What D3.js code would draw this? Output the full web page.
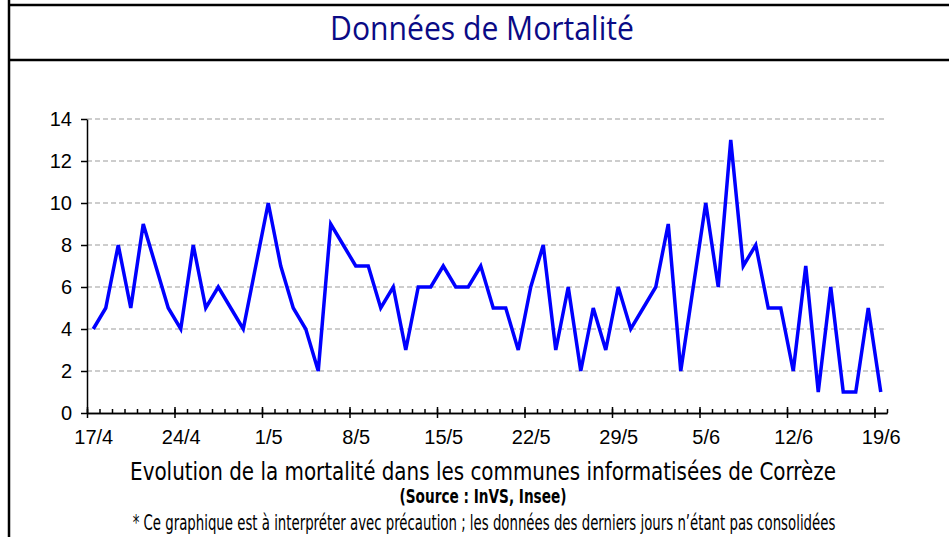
<!DOCTYPE html>
<html>
<head>
<meta charset="utf-8">
<script src="https://cdn.jsdelivr.net/npm/d3@7"></script>
<style type="text/css">
body { margin: 0; background: #fff; }
.frame { stroke: #000; stroke-width: 2.5; }
.grid line { stroke: #bdbdbd; stroke-width: 1.5; stroke-dasharray: 5,3; }
.axis path, .axis line { stroke: #000; stroke-width: 1.5; }
.line { fill: none; stroke: #0000ff; stroke-width: 3.5; stroke-linejoin: miter; }
.narrow { font-family: "Liberation Sans Narrow", "DejaVu Sans Condensed", sans-serif; fill: #000; }
</style>
</head>
<body>
<div id="chart"></div>
<script>

// daily deaths, from 17/4 to 19/6
var startDay = new Date(2020, 3, 17);
var deaths = [4,5,8,5,9,7,5,4,8,5,6,5,4,7,10,7,5,4,2,9,
              8,7,7,5,6,3,6,6,7,6,6,7,5,5,3,6,8,3,6,2,
              5,3,6,4,5,6,9,2,6,10,6,13,7,8,5,5,2,7,1,6,1,1,5,1];
var days = deaths.map(function(d, i) { return d3.timeDay.offset(startDay, i); });

// labelled ticks on the x axis
var tickLabels = ["17/4","24/4","1/5","8/5","15/5","22/5","29/5","5/6","12/6","19/6"];
var tickDays = tickLabels.map(function(t) {
	var p = t.split("/");
	return new Date(2020, +p[1] - 1, +p[0]);
});
var yTicks = [0, 2, 4, 6, 8, 10, 12, 14];

var width = 949, height = 537;
var margin = {top: 119, left: 87, bottom: 413, right: 887};

var svg = d3.select("#chart").append("svg")
	.attr("width", width)
	.attr("height", height);

// squeeze a text horizontally to the wanted width, centred on cx
function fitText(t, cx, cy, w) {
	var natural = t.node().getComputedTextLength();
	t.attr("x", 0).attr("y", 0)
	 .attr("transform", "translate(" + cx + "," + cy + ") scale(" + (w / natural) + ",1)");
}

// frame
svg.append("line").attr("class", "frame").attr("x1", 9).attr("x2", 9).attr("y1", 0).attr("y2", height);
svg.append("line").attr("class", "frame").attr("x1", 8).attr("x2", width).attr("y1", 5).attr("y2", 5);
svg.append("line").attr("class", "frame").attr("x1", 8).attr("x2", width).attr("y1", 60).attr("y2", 60);

var title = svg.append("text")
	.attr("text-anchor", "middle")
	.style("font-family", "'Open Sans', 'Noto Sans', sans-serif")
	.style("font-size", "32px")
	.style("fill", "#0a0a85")
	.text("Données de Mortalité");
fitText(title, 482, 40, 304);

var x = d3.scaleTime()
	.domain([startDay, d3.timeDay.offset(startDay, 64)])
	.range([margin.left, margin.right]);
var y = d3.scaleLinear()
	.domain([0, 14])
	.range([margin.bottom, margin.top]);
var half = (x(d3.timeDay.offset(startDay, 1)) - x(startDay)) / 2;

// grid lines
svg.append("g").attr("class", "grid")
	.selectAll("line").data(yTicks.slice(1)).enter().append("line")
	.attr("x1", margin.left).attr("x2", margin.right)
	.attr("y1", function(d) { return y(d); })
	.attr("y2", function(d) { return y(d); });

// y axis
svg.append("g").attr("class", "axis")
	.attr("transform", "translate(" + margin.left + ",0)")
	.call(d3.axisLeft(y).tickValues(yTicks).tickSize(6).tickSizeOuter(0).tickPadding(9))
	.selectAll("text").attr("font-family", "'Liberation Sans', Arial, sans-serif").attr("font-size", 20);

// minor x ticks, one per day
svg.append("g").attr("class", "axis")
	.attr("transform", "translate(0," + margin.bottom + ")")
	.call(d3.axisBottom(x).ticks(d3.timeDay.every(1)).tickSize(-4).tickSizeOuter(0).tickFormat(""));

// major x ticks and labels
var xAxis = svg.append("g").attr("class", "axis")
	.attr("transform", "translate(0," + margin.bottom + ")")
	.call(d3.axisBottom(x).tickValues(tickDays).tickSize(5).tickSizeOuter(0).tickPadding(12)
		.tickFormat(function(d, i) { return tickLabels[i]; }));
xAxis.selectAll(".tick line").attr("y1", -6);
xAxis.selectAll(".tick text")
	.attr("dx", half)
	.attr("font-family", "'Liberation Sans', Arial, sans-serif")
	.attr("font-size", 20);

// line
svg.append("path")
	.datum(deaths)
	.attr("class", "line")
	.attr("d", d3.line()
		.x(function(d, i) { return x(days[i]) + half; })
		.y(function(d) { return y(d); }));

// captions
var sub = svg.append("text").attr("class", "narrow")
	.attr("text-anchor", "middle")
	.style("font-size", "25px")
	.text("Evolution de la mortalité dans les communes informatisées de Corrèze");
fitText(sub, 483, 480, 706);

var src = svg.append("text").attr("class", "narrow")
	.attr("text-anchor", "middle")
	.style("font-size", "20px").style("font-weight", "bold")
	.text("(Source : InVS, Insee)");
fitText(src, 483, 503, 167);

var note = svg.append("text").attr("class", "narrow")
	.attr("text-anchor", "middle")
	.style("font-size", "21px")
	.text("* Ce graphique est à interpréter avec précaution ; les données des derniers jours n’étant pas consolidées");
fitText(note, 484, 530, 703);

</script>
</body>
</html>
